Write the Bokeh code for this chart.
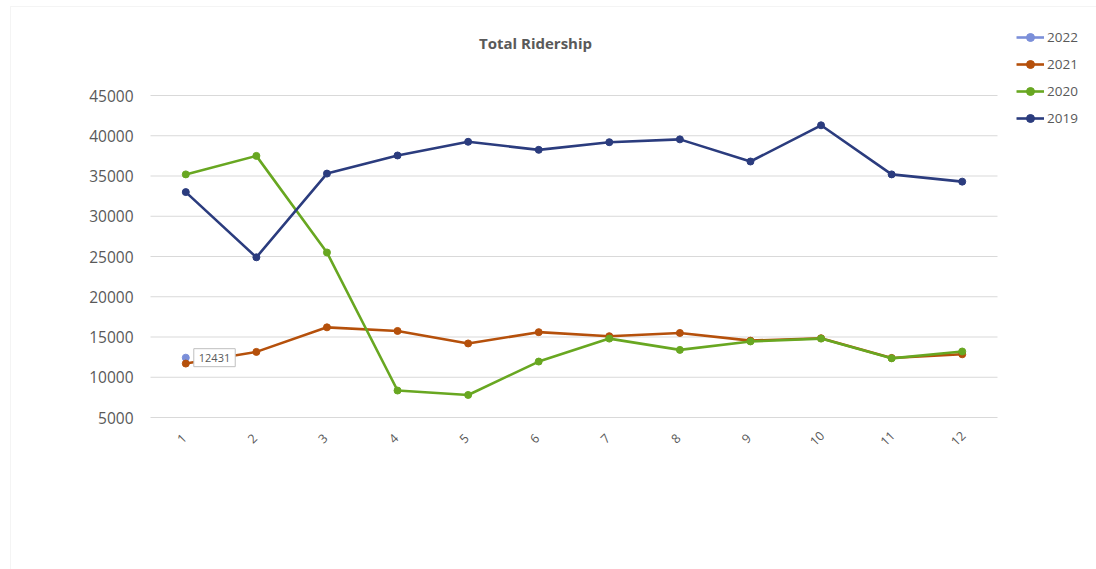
from bokeh.plotting import figure
from bokeh.models import (Range1d, Legend, LegendItem, Label, BoxAnnotation, ColumnDataSource)
from bokeh.core.properties import value
from bokeh.embed import file_html
from bokeh.resources import INLINE
import math

months = [1, 2, 3, 4, 5, 6, 7, 8, 9, 10, 11, 12]
y2019 = [33000, 24900, 35300, 37550, 39250, 38250, 39200, 39550, 36800, 41300, 35200, 34300]
y2020 = [35200, 37500, 25500, 8350, 7800, 11950, 14800, 13400, 14450, 14800, 12350, 13200]
y2021 = [11700, 13150, 16200, 15750, 14200, 15600, 15100, 15500, 14550, 14850, 12400, 12850]
m2022 = [1]
y2022 = [12431]
y_ticks = [5000, 10000, 15000, 20000, 25000, 30000, 35000, 40000, 45000]

series = [
    ("2022", m2022, y2022, "#7B8FD9"),
    ("2021", months, y2021, "#B5500B"),
    ("2020", months, y2020, "#68A721"),
    ("2019", months, y2019, "#2B3C7E"),
]

# pixel layout of the plot area inside the 1096x569 canvas
W, H = 1096, 569
PL, PR, PT, PB = 150, 997, 95, 417          # plot-area edges in pixels
XA, XB = months[0] - 0.5, months[-1] + 0.5  # category band limits
YA, YB = y_ticks[0], y_ticks[-1]
sx = (PR - PL) / (XB - XA)
sy = (PB - PT) / (YB - YA)


def dx(px):
    return XA + (px - PL) / sx


def dy(py):
    return YA + (PB - py) / sy


p = figure(width=W, height=H, output_backend="svg", toolbar_location=None,
           x_range=Range1d(dx(0), dx(W)), y_range=Range1d(dy(H), dy(0)),
           min_border=0, min_border_left=0, min_border_right=0,
           min_border_top=0, min_border_bottom=0)
p.axis.visible = False
p.grid.visible = False
p.outline_line_color = None
p.background_fill_color = "white"
p.border_fill_color = "white"

# chart-area border (top and left edges visible)
p.add_layout(BoxAnnotation(left=dx(10), right=dx(1300), top=dy(6), bottom=dy(800),
                           fill_alpha=0, line_color="#D9D9D9", line_width=1, level="underlay"))

# horizontal gridlines
p.segment(x0=[XA] * len(y_ticks), x1=[XB] * len(y_ticks), y0=y_ticks, y1=y_ticks,
          line_color="#D9D9D9", line_width=1)

# y tick labels
p.text(x=[XA] * len(y_ticks), y=y_ticks, text=[str(t) for t in y_ticks],
       x_offset=-17, text_align="right", text_baseline="middle",
       text_font=value("Open Sans"), text_font_size="15.5px", text_color="#595959")

# x tick labels (rotated)
p.text(x=months, y=[YA] * len(months), text=[str(m) for m in months],
       x_offset=-4, y_offset=21, angle=math.pi / 4,
       text_align="center", text_baseline="middle",
       text_font=value("Open Sans"), text_font_size="12.5px", text_color="#595959")

items = []
for name, xs, ys, col in series:
    src = ColumnDataSource(dict(x=xs, y=ys))
    r1 = p.line("x", "y", source=src, line_color=col, line_width=2.6)
    r2 = p.scatter("x", "y", source=src, size=7, fill_color=col, line_color=col)
    items.append(LegendItem(label=name, renderers=[r1, r2]))

legend = Legend(items=items, location=(1016, H - 128),
                padding=0, margin=0, border_line_alpha=0, background_fill_alpha=0,
                glyph_width=28, glyph_height=20, spacing=7, label_standoff=3,
                label_text_font="Open Sans", label_text_font_size="13.5px",
                label_text_color="#595959")
p.add_layout(legend)

# data label for 2022
p.add_layout(Label(x=m2022[0], y=y2022[0], text=str(y2022[0]), x_offset=8,
                   text_baseline="middle", text_font="Open Sans", text_font_size="11px",
                   text_color="#595959", border_line_color="#BFBFBF",
                   background_fill_color="white", padding=5))

# title
p.add_layout(Label(x=dx(535), y=dy(42),
                   text="Total Ridership", text_align="center", text_baseline="middle",
                   text_font="Open Sans", text_font_style="bold", text_font_size="15px",
                   text_color="#595959"))

open("out.html", "w").write(file_html(p, INLINE))
